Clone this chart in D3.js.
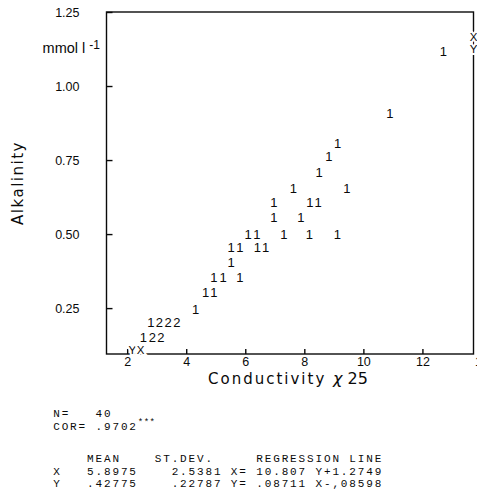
<!DOCTYPE html>
<html><head><meta charset="utf-8">
<script src="https://cdn.jsdelivr.net/npm/d3@7"></script>
<style>body{margin:0;background:#fff;overflow:hidden}</style>
</head><body><svg id="c" width="477" height="502"></svg>
<script>
// ---- data (read from the printer-plot) ----
const xTicks = [2, 4, 6, 8, 10, 12, 14];
const yTicks = [0.25, 0.5, 0.75, 1.0, 1.25];
// plotted cells: conductivity, alkalinity and the printed count digit
const conductivity = [12.71, 10.90, 9.13, 8.83, 8.50, 7.63, 9.44, 6.97, 8.19, 8.47,
  6.97, 7.88, 6.10, 6.39, 7.31, 8.17, 9.12, 5.52, 5.82, 6.41,
  6.69, 5.52, 4.94, 5.25, 5.82, 4.66, 4.94, 4.32, 2.80, 3.09,
  3.39, 3.68, 2.55, 2.85, 3.14];
const alkalinity = [1.116, 0.908, 0.807, 0.761, 0.707, 0.655, 0.655, 0.607, 0.607, 0.607,
  0.555, 0.555, 0.499, 0.499, 0.499, 0.499, 0.499, 0.456, 0.456, 0.456,
  0.456, 0.405, 0.353, 0.353, 0.353, 0.302, 0.302, 0.246, 0.201, 0.201,
  0.201, 0.201, 0.151, 0.151, 0.151];
const counts = [1, 1, 1, 1, 1, 1, 1, 1, 1, 1,
  1, 1, 1, 1, 1, 1, 1, 1, 1, 1,
  1, 1, 1, 1, 1, 1, 1, 1, 1, 2,
  2, 2, 1, 2, 2];
const regXonY = [10.807, 1.2749];   // X = a*Y + b
const regYonX = [0.08711, -0.08598]; // Y = a*X + b
const nObs = 40;
const corText = ".9702";
const varNames = ["X", "Y"];
const means = ["5.8975", ".42775"];
const stdevs = ["2.5381", ".22787"];
const regTexts = ["X= 10.807 Y+1.2749", "Y= .08711 X-,08598"];

// ---- drawing ----
const svg = d3.select("#c");
const x = d3.scaleLinear().domain([1.30, 13.73]).range([106.5, 473.5]);
const y = d3.scaleLinear().domain([0.095, 1.25]).range([354, 12]);
const sans = "'Liberation Sans', Arial, sans-serif";
const ink = "#0a0a0a";

// frame
svg.append("rect")
  .attr("x", x.range()[0]).attr("y", y.range()[1])
  .attr("width", x.range()[1] - x.range()[0])
  .attr("height", y.range()[0] - y.range()[1])
  .attr("fill", "none").attr("stroke", ink).attr("stroke-width", 1.4);

// x axis
const gx = svg.append("g").attr("transform", `translate(0,${y.range()[0]})`)
  .call(d3.axisBottom(x).tickValues(xTicks).tickSize(-5).tickPadding(3).tickFormat(d3.format("d")));
gx.select(".domain").remove();
gx.selectAll("line").attr("stroke", ink).attr("stroke-width", 1.4);
gx.selectAll("text").attr("font-family", sans).attr("font-size", 12.5).attr("fill", ink);

// y axis
const gy = svg.append("g").attr("transform", `translate(${x.range()[0]},0)`)
  .call(d3.axisLeft(y).tickValues(yTicks).tickSize(-6).tickPadding(27).tickFormat(d3.format(".2f")));
gy.select(".domain").remove();
gy.selectAll("line").attr("stroke", ink).attr("stroke-width", 1.4);
gy.selectAll("text").attr("font-family", sans).attr("font-size", 12.5).attr("fill", ink);

// unit label
const unit = svg.append("text").attr("x", 100).attr("y", 53)
  .attr("text-anchor", "end").attr("font-family", sans).attr("font-size", 14.5).attr("fill", ink);
unit.append("tspan").text("mmol l ");
unit.append("tspan").attr("font-size", 12).attr("dy", -4).text("-1");

// axis titles
svg.append("text")
  .attr("transform", "translate(18,183) rotate(-90)")
  .attr("text-anchor", "middle").attr("dominant-baseline", "central")
  .attr("font-family", "'DejaVu Sans', sans-serif").attr("font-size", 15)
  .attr("letter-spacing", 1.5).attr("fill", ink).text("Alkalinity");

const xt = svg.append("text").attr("x", 208).attr("y", 383.5)
  .attr("text-anchor", "start").attr("font-family", "'DejaVu Sans', sans-serif")
  .attr("font-size", 15).attr("fill", ink);
xt.append("tspan").attr("letter-spacing", 2).text("Conductivity ");
xt.append("tspan").attr("font-style", "italic").attr("font-size", 16).text("χ");
xt.append("tspan").attr("font-size", 16).text(" 25");

// plotted digits
const pts = conductivity.map((c, i) => ({c, a: alkalinity[i], n: counts[i]}));
svg.append("g").selectAll("text").data(pts).join("text")
  .attr("x", d => x(d.c)).attr("y", d => y(d.a))
  .attr("dy", "0.36em").attr("text-anchor", "middle")
  .attr("font-family", sans).attr("font-size", 13).attr("fill", ink)
  .text(d => d.n);

// regression line end markers
const xMax = x.domain()[1], yMin = y.domain()[0];
const markers = [
  {t: "X", px: x(xMax), py: y((xMax - regXonY[1]) / regXonY[0]), dx: 0},
  {t: "Y", px: x(xMax), py: y(regYonX[0] * xMax + regYonX[1]), dx: 0},
  {t: "Y", px: x((yMin - regYonX[1]) / regYonX[0]), py: y(yMin), dx: 3},
  {t: "X", px: x(regXonY[0] * yMin + regXonY[1]), py: y(yMin), dx: 4.5}
];
svg.append("g").selectAll("text").data(markers).join("text")
  .attr("x", d => d.px).attr("y", d => d.py).attr("dx", d => d.dx)
  .attr("text-anchor", "middle")
  .attr("font-family", sans).attr("font-size", 11.5).attr("fill", ink)
  .attr("stroke", "#fff").attr("stroke-width", 4).attr("paint-order", "stroke")
  .text(d => d.t);

// statistics printout
const mono = "'Liberation Mono', 'Courier New', monospace";
const left = 53.2;
function monoLine(yy) {
  return svg.append("text").attr("x", left).attr("y", yy)
    .attr("font-family", mono).attr("font-size", 11).attr("letter-spacing", 1.86)
    .attr("fill", ink).attr("xml:space", "preserve").style("white-space", "pre");
}
monoLine(417).text("N=" + String(nObs).padStart(5));
const corLine = monoLine(429.5);
corLine.append("tspan").text("COR= " + corText);
corLine.append("tspan").attr("font-size", 9).attr("dy", -5).attr("letter-spacing", 0.5).text("***");
monoLine(462).text(" ".repeat(4) + "MEAN" + " ".repeat(4) + "ST.DEV." + " ".repeat(5) + "REGRESSION LINE");
varNames.forEach((v, i) => {
  monoLine(474.5 + i * 12.5).text(v.padEnd(4) + means[i].padStart(6) + stdevs[i].padStart(10) + " " + regTexts[i]);
});
</script>
</body></html>
